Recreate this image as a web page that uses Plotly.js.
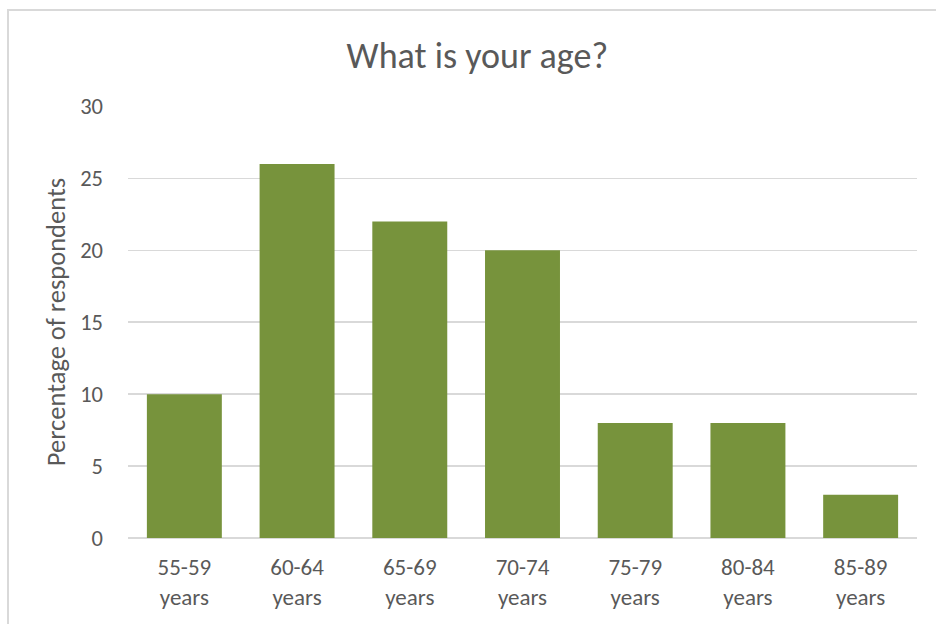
<!DOCTYPE html>
<html>
<head>
<meta charset="utf-8">
<script src="https://cdn.plot.ly/plotly-3.0.1.min.js"></script>
<style>
  html, body { margin: 0; padding: 0; background: #ffffff; }
  #wrap { position: relative; width: 936px; height: 624px; overflow: hidden; }
  #frame { position: absolute; left: 7px; top: 9px; width: 940px; height: 630px;
           border-left: 2px solid #d9d9d9; border-top: 2px solid #d9d9d9; box-sizing: border-box; pointer-events: none; }
  #chart { position: absolute; left: 0; top: 0; width: 936px; height: 624px; }
</style>
</head>
<body>
<div id="wrap">
  <div id="chart"></div>
  <div id="frame"></div>
</div>
<script>
const categories = ["55-59<br>years", "60-64<br>years", "65-69<br>years", "70-74<br>years", "75-79<br>years", "80-84<br>years", "85-89<br>years"];
const percentages = [10, 26, 22, 20, 8, 8, 3];
const yTicks = [0, 5, 10, 15, 20, 25, 30];

const fontFam = "Calibri, Carlito, Lato, 'Open Sans', sans-serif";
const textCol = "#595959";

const trace = {
  type: "bar",
  x: categories,
  y: percentages,
  marker: { color: "#77933C" },
  hoverinfo: "x+y"
};

const layout = {
  width: 936,
  height: 624,
  margin: { l: 128, r: 19, t: 106, b: 86 },
  paper_bgcolor: "#ffffff",
  plot_bgcolor: "#ffffff",
  bargap: 0.335,
  showlegend: false,
  title: {
    text: "What is your age?",
    font: { family: fontFam, size: 36, color: textCol },
    x: 0.51, xanchor: "center",
    y: 0.911, yanchor: "middle"
  },
  xaxis: {
    type: "category",
    tickfont: { family: fontFam, size: 23, color: textCol },
    showgrid: false,
    zeroline: false,
    showline: false,
    ticks: "",
    ticklabelstandoff: 13
  },
  yaxis: {
    range: [0, 30.03],
    tickvals: yTicks,
    ticktext: yTicks.map(String),
    tickfont: { family: fontFam, size: 22.5, color: textCol },
    showgrid: true,
    gridcolor: "#d9d9d9",
    gridwidth: 1.5,
    zeroline: true,
    zerolinecolor: "#d9d9d9",
    zerolinewidth: 1.5,
    showline: false,
    ticks: "",
    ticklabelstandoff: 24,
    title: {
      text: "Percentage of respondents",
      font: { family: fontFam, size: 26.5, color: textCol },
      standoff: 6
    }
  }
};

Plotly.newPlot("chart", [trace], layout, { displayModeBar: false, staticPlot: true });
</script>
</body>
</html>
